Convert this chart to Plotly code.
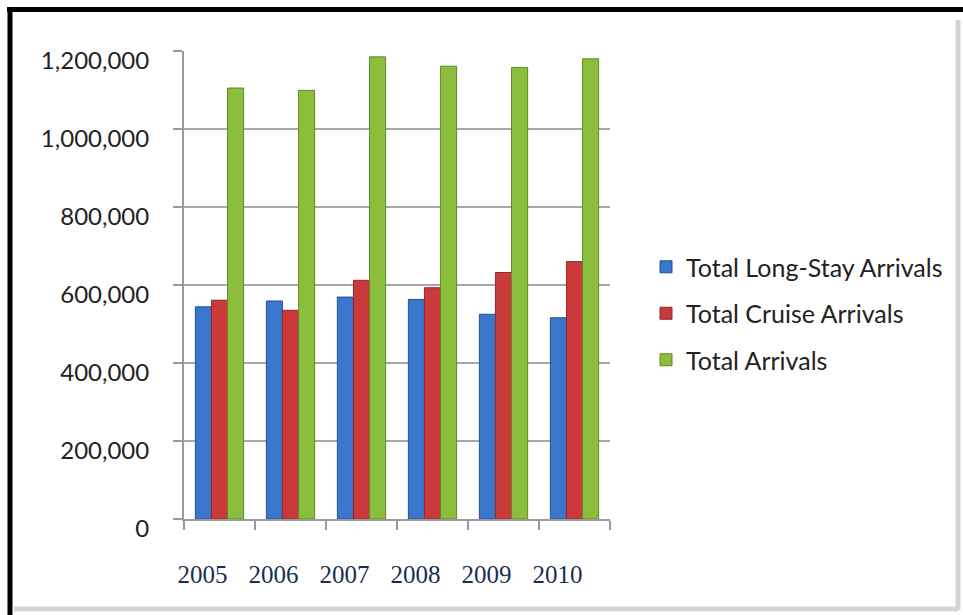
import plotly.graph_objects as go

years = ["2005", "2006", "2007", "2008", "2009", "2010"]
long_stay = [544000, 559000, 569000, 563000, 525000, 516000]
cruise = [561000, 535000, 612000, 593000, 632000, 660000]
total = [1105000, 1099000, 1185000, 1161000, 1158000, 1180000]
series_names = ["Total Long-Stay Arrivals", "Total Cruise Arrivals", "Total Arrivals"]
y_ticks = [0, 200000, 400000, 600000, 800000, 1000000, 1200000]

colors = ["#3A76CB", "#CB3A3A", "#8CBE3E"]
edge = ["#245296", "#942626", "#5F8A22"]

W, H = 963, 615
L, R, T, B = 184, 353, 51, 96
pw, ph = W - L - R, H - T - B

def px(x):
    return (x - L) / pw

def py(y):
    return (H - B - y) / ph

fig = go.Figure()
for name, vals, c, e in zip(series_names, [long_stay, cruise, total], colors, edge):
    fig.add_trace(go.Bar(
        x=years, y=vals, name=name, legendgroup=name,
        marker=dict(color=c, line=dict(color=e, width=1)),
    ))

shapes = [
    dict(type="line", xref="paper", yref="paper", x0=px(7), x1=px(963), y0=py(9.5), y1=py(9.5),
         line=dict(color="black", width=5)),
    dict(type="line", xref="paper", yref="paper", x0=px(10), x1=px(10), y0=py(7), y1=py(615),
         line=dict(color="black", width=5)),
    dict(type="line", xref="paper", yref="paper", x0=px(958), x1=px(958), y0=py(20), y1=py(610),
         line=dict(color="#D4D4D4", width=5)),
    dict(type="line", xref="paper", yref="paper", x0=px(14), x1=px(958), y0=py(609), y1=py(609),
         line=dict(color="#D4D4D4", width=5)),
]

fig.update_layout(
    width=W, height=H,
    margin=dict(l=L, r=R, t=T, b=B),
    paper_bgcolor="white", plot_bgcolor="white",
    barmode="group", bargap=0.32, bargroupgap=0,
    shapes=shapes,
    showlegend=True,
    legend=dict(
        x=px(646), y=py(244), xanchor="left", yanchor="top",
        font=dict(family="Lato", size=25, color="#222222"),
        traceorder="grouped", tracegroupgap=11,
        bgcolor="rgba(0,0,0,0)",
    ),
    xaxis=dict(
        type="category",
        tickson="boundaries",
        ticks="outside", ticklen=9, tickcolor="#9A9A9A", tickwidth=2,
        showline=True, linecolor="#9A9A9A", linewidth=2,
        showgrid=False,
        tickfont=dict(family="Liberation Serif", size=25, color="#1B2E52"),
        ticklabelstandoff=32, ticklabelshift=-17,
    ),
    yaxis=dict(
        range=[0, 1200000],
        tickvals=y_ticks, tickformat=",d",
        ticks="outside", ticklen=9, tickcolor="#9A9A9A", tickwidth=2,
        showline=True, linecolor="#9A9A9A", linewidth=2,
        showgrid=True, gridcolor="#A8A8A8", gridwidth=2,
        zeroline=False,
        tickfont=dict(family="Lato", size=24, color="#222222"),
        ticklabelstandoff=19, ticklabelshift=10,
    ),
)

fig.write_html("out.html")
